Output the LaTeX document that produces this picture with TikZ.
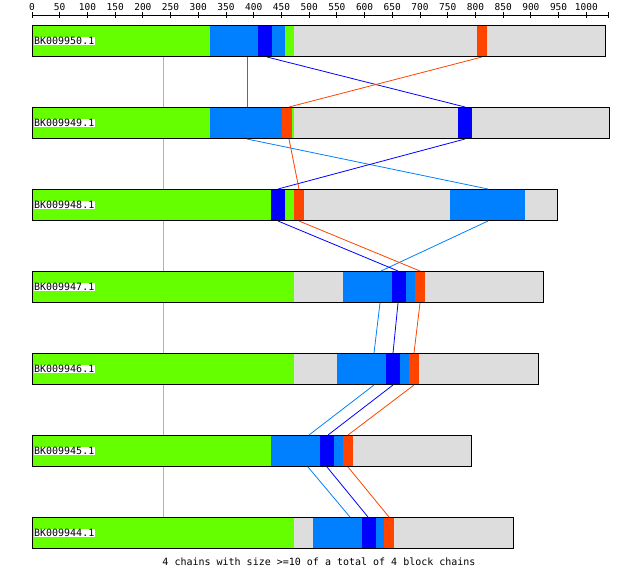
\documentclass[tikz,border=0pt]{standalone}
\usepackage{fontspec}
\setmonofont{DejaVu Sans Mono}

\definecolor{chainGreen}{HTML}{66FF00}
\definecolor{chainBlue}{HTML}{0080FF}
\definecolor{chainDark}{HTML}{0000FF}
\definecolor{chainOrange}{HTML}{FF4400}
\definecolor{chainGray}{HTML}{DDDDDD}

\begin{document}
\begin{tikzpicture}[x=1pt, y=-1pt, line width=1pt]
                \useasboundingbox (0,0) rectangle (640,574);
                \tikzstyle{Bar} = [draw, line width=1pt, inner sep=0pt, minimum height=31pt, anchor=north west]
                \tikzstyle{Label} = [fill=white, inner sep=0.6pt, anchor=west, font=\ttfamily\fontsize{10}{10}\selectfont]
                \tikzstyle{Tick} = [anchor=base, inner sep=0pt, font=\ttfamily\fontsize{9.5}{10}\selectfont]
                \tikzstyle{Link} = [line width=0.8pt]

                % 1. Position scale on top
                \draw (32,15) -- (608,15);
                \draw (608,12) -- (608,18);
                \foreach \v in {0,50,...,1000} {
                    \draw ({32+0.5543*\v},12) -- ({32+0.5543*\v},18);
                    \node[Tick] at ({32+0.5543*\v},10.5) {\v};
                }

                % 2. The seven block chains (segments first, frame on top)
                % BK009950.1
                \foreach \c/\a/\b in {chainGray/32/605, chainGreen/32/294, chainBlue/210/285, chainDark/258/272, chainOrange/477/487}
                    \fill[\c] (\a,25) rectangle (\b,56);
                \node[Bar, minimum width=573pt] (bar1) at (32,25) {};
                \node[Label] (lab1) at ([xshift=1pt]bar1.west) {BK009950.1};

                % BK009949.1
                \foreach \c/\a/\b in {chainGray/32/609, chainGreen/32/294, chainBlue/210/282, chainOrange/282/292, chainDark/458/472}
                    \fill[\c] (\a,107) rectangle (\b,138);
                \node[Bar, minimum width=577pt] (bar2) at (32,107) {};
                \node[Label] (lab2) at ([xshift=1pt]bar2.west) {BK009949.1};

                % BK009948.1
                \foreach \c/\a/\b in {chainGray/32/557, chainGreen/32/294, chainDark/271/285, chainOrange/294/304, chainBlue/450/525}
                    \fill[\c] (\a,189) rectangle (\b,220);
                \node[Bar, minimum width=525pt] (bar3) at (32,189) {};
                \node[Label] (lab3) at ([xshift=1pt]bar3.west) {BK009948.1};

                % BK009947.1
                \foreach \c/\a/\b in {chainGray/32/543, chainGreen/32/294, chainBlue/343/415, chainDark/392/406, chainOrange/415/425}
                    \fill[\c] (\a,271) rectangle (\b,302);
                \node[Bar, minimum width=511pt] (bar4) at (32,271) {};
                \node[Label] (lab4) at ([xshift=1pt]bar4.west) {BK009947.1};

                % BK009946.1
                \foreach \c/\a/\b in {chainGray/32/538, chainGreen/32/294, chainBlue/337/409, chainDark/386/400, chainOrange/409/419}
                    \fill[\c] (\a,353) rectangle (\b,384);
                \node[Bar, minimum width=506pt] (bar5) at (32,353) {};
                \node[Label] (lab5) at ([xshift=1pt]bar5.west) {BK009946.1};

                % BK009945.1
                \foreach \c/\a/\b in {chainGray/32/471, chainGreen/32/271, chainBlue/271/343, chainDark/320/334, chainOrange/343/353}
                    \fill[\c] (\a,435) rectangle (\b,466);
                \node[Bar, minimum width=439pt] (bar6) at (32,435) {};
                \node[Label] (lab6) at ([xshift=1pt]bar6.west) {BK009945.1};

                % BK009944.1
                \foreach \c/\a/\b in {chainGray/32/513, chainGreen/32/294, chainBlue/313/384, chainDark/362/376, chainOrange/384/394}
                    \fill[\c] (\a,517) rectangle (\b,548);
                \node[Bar, minimum width=481pt] (bar7) at (32,517) {};
                \node[Label] (lab7) at ([xshift=1pt]bar7.west) {BK009944.1};

                % 3. Links between matching blocks
                \foreach \i/\j in {1/2, 2/3, 3/4, 4/5, 5/6, 6/7}
                    \draw[Link, chainGreen] (bar\i.south -| 163,0) -- (bar\j.north -| 163,0);
                \foreach \i/\j/\a/\b in {1/2/247/247, 2/3/247/488, 3/4/488/381, 4/5/380/374, 5/6/374/309, 6/7/308/350}
                    \draw[Link, chainBlue] (bar\i.south -| \a,0) -- (bar\j.north -| \b,0);
                \foreach \i/\j/\a/\b in {1/2/267/465, 2/3/465/278, 3/4/278/398, 4/5/398/393, 5/6/393/328, 6/7/327/368}
                    \draw[Link, chainDark] (bar\i.south -| \a,0) -- (bar\j.north -| \b,0);
                \foreach \i/\j/\a/\b in {1/2/482/289, 2/3/289/299, 3/4/299/420, 4/5/420/414, 5/6/414/348, 6/7/348/389}
                    \draw[Link, chainOrange] (bar\i.south -| \a,0) -- (bar\j.north -| \b,0);

                % 4. Summary line
                \node[font=\ttfamily\fontsize{10}{10}\selectfont, inner sep=0pt] (summary) at (319,562)
                    {4 chains with size >=10 of a total of 4 block chains};

            \end{tikzpicture}
\end{document}
